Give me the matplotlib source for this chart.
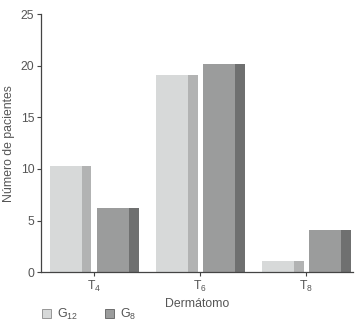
import matplotlib
matplotlib.use("Agg")
import matplotlib.pyplot as plt
from matplotlib.patches import Patch
import numpy as np

categories = ["T$_4$", "T$_6$", "T$_8$"]
g12 = [10.3, 19.1, 1.1]
g8 = [6.2, 20.2, 4.1]
series_labels = ["G$_{12}$", "G$_8$"]

plt.rcParams['font.family'] = ['Liberation Sans', 'DejaVu Sans']
plt.rcParams['mathtext.fontset'] = 'custom'
plt.rcParams['mathtext.rm'] = 'Liberation Sans'
plt.rcParams['mathtext.it'] = 'Liberation Sans'
plt.rcParams['mathtext.default'] = 'regular'

txt = '#555555'
fig = plt.figure(figsize=(3.56, 3.24), dpi=100)
ax = fig.add_axes([0.115, 0.1596, 0.876, 0.797])

x = np.arange(len(categories))
front_w = 0.30
side_w = 0.09
# G12
ax.bar(x - 0.414, g12, width=front_w, align='edge', color='#d7d9d9', linewidth=0)
ax.bar(x - 0.414 + front_w, g12, width=side_w, align='edge', color='#b2b3b3', linewidth=0)
# G8
ax.bar(x + 0.029, g8, width=front_w, align='edge', color='#9b9c9c', linewidth=0)
ax.bar(x + 0.029 + front_w, g8, width=side_w, align='edge', color='#6f7070', linewidth=0)

ax.set_xlim(-0.50, 2.437)
ax.set_ylim(0, 25)
ax.set_yticks([0, 5, 10, 15, 20, 25])
ax.set_xticks(x)
ax.set_xticklabels(categories)
for s in ['top', 'right']:
    ax.spines[s].set_visible(False)
for s in ['left', 'bottom']:
    ax.spines[s].set_color('#444444')
    ax.spines[s].set_linewidth(0.9)
ax.tick_params(axis='both', colors='#444444', labelcolor=txt, labelsize=8.8,
               length=2.8, width=0.8, pad=2)
ax.set_ylabel("Número de pacientes", color=txt, fontsize=8.8, labelpad=4)
ax.set_xlabel("Dermátomo", color=txt, fontsize=8.8, labelpad=3)

handles = [Patch(facecolor='#d7d9d9', edgecolor='#8a8a8a', linewidth=0.6),
           Patch(facecolor='#9b9c9c', edgecolor='#5f5f5f', linewidth=0.6)]
fig.legend(handles, series_labels, loc='lower left', bbox_to_anchor=(0.117, 0.006),
           ncol=2, frameon=False, fontsize=9, labelcolor=txt,
           borderpad=0, borderaxespad=0,
           handlelength=0.72, handleheight=0.72, handletextpad=0.48, columnspacing=2.2)

fig.savefig("out.png", dpi=100)
